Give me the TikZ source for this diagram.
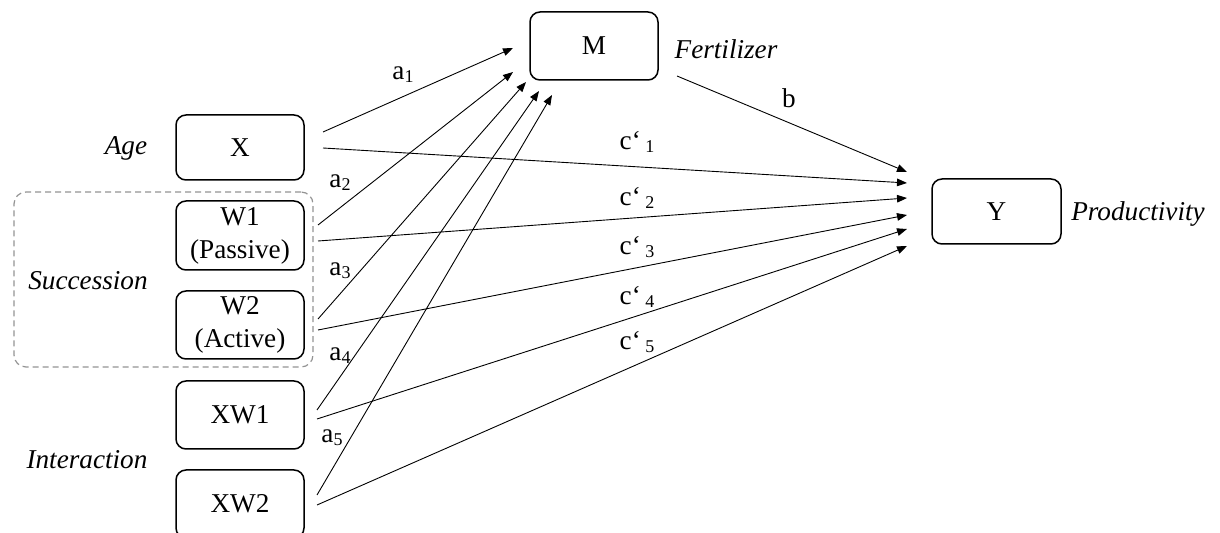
\documentclass[tikz,border=0pt]{standalone}
\usepackage{fontspec}
\setmainfont{Liberation Serif}
\usetikzlibrary{arrows.meta}
\tikzset{
  box/.style={draw=black, line width=0.75pt, rounded corners=5pt, minimum width=64pt, minimum height=34pt, inner sep=0pt, align=center, font=\fontsize{13.6}{16.5}\selectfont},
  grp/.style={draw=gray!85, line width=0.6pt, dash pattern=on 3pt off 2pt, rounded corners=6pt, inner sep=0pt},
  lab/.style={font=\fontsize{13.6}{16}\selectfont\itshape, inner sep=0pt},
  plab/.style={font=\fontsize{13.6}{16}\selectfont, inner sep=0pt},
  conn/.style={line width=0.45pt, -{Triangle[length=5pt,width=3.8pt]}},
}
\newcommand{\sbs}[1]{\raisebox{-0.25ex}{\fontsize{9}{9}\selectfont #1}}
\begin{document}
\begin{tikzpicture}[x=0.5pt,y=-0.5pt]
\useasboundingbox (0,0) rectangle (1220,533);
% group box
\node[grp, minimum width=149.5pt, minimum height=87.5pt] (grp) at (163.5,279.5) {};
% boxes
\node[box, minimum height=32.5pt] (X) at (240,147.5) {X};
\node[box, minimum height=34.5pt] (W1) at (240,235.5) {W1\\(Passive)};
\node[box] (W2) at (240,325) {W2\\(Active)};
\node[box] (XW1) at (240,415) {XW1};
\node[box] (XW2) at (240,504) {XW2};
\node[box] (M) at (594,46) {M};
\node[box, minimum width=64.5pt, minimum height=32.5pt] (Y) at (996.5,211.5) {Y};
% side labels
\node[lab] (age) at (126,148) {Age};
\node[lab] (succ) at (88,281) {Succession};
\node[lab] (inter) at (87,460) {Interaction};
\node[lab] (fert) at (726,49) {Fertilizer};
\node[lab] (prod) at (1138,214) {Productivity};
% start and end points
\coordinate (xa) at (323,132);
\coordinate (xc) at (323,148);
\coordinate (w1a) at (318,225);
\coordinate (w1c) at (318,241);
\coordinate (w2a) at (318,319);
\coordinate (w2c) at (318,330);
\coordinate (xw1a) at (317,410);
\coordinate (xw1c) at (317,419);
\coordinate (xw2a) at (317,495);
\coordinate (xw2c) at (317,505);
\coordinate (mb) at (677,76);
\coordinate (m1) at (513,48);
\coordinate (m2) at (513,72);
\coordinate (m3) at (526,82);
\coordinate (m4) at (539,91);
\coordinate (m5) at (552,95);
\coordinate (yb) at (907,172);
\coordinate (y1) at (907,183);
\coordinate (y2) at (907,198);
\coordinate (y3) at (907,215);
\coordinate (y4) at (907,229);
\coordinate (y5) at (907,246);
% connectors
\draw[conn] (xa) -- (m1);
\draw[conn] (w1a) -- (m2);
\draw[conn] (w2a) -- (m3);
\draw[conn] (xw1a) -- (m4);
\draw[conn] (xw2a) -- (m5);
\draw[conn] (mb) -- (yb);
\draw[conn] (xc) -- (y1);
\draw[conn] (w1c) -- (y2);
\draw[conn] (w2c) -- (y3);
\draw[conn] (xw1c) -- (y4);
\draw[conn] (xw2c) -- (y5);
% path labels
\node[plab] (la1) at (403,75) {a\sbs{1}};
\node[plab] (la2) at (340,183) {a\sbs{2}};
\node[plab] (la3) at (340,271) {a\sbs{3}};
\node[plab] (la4) at (340,356) {a\sbs{4}};
\node[plab] (la5) at (332,438) {a\sbs{5}};
\node[plab] (lb) at (789,98) {b};
\node[plab] (lc1) at (637,142) {c‘\,\sbs{1}};
\node[plab] (lc2) at (637,198) {c‘\,\sbs{2}};
\node[plab] (lc3) at (637,247) {c‘\,\sbs{3}};
\node[plab] (lc4) at (637,297) {c‘\,\sbs{4}};
\node[plab] (lc5) at (637,342) {c‘\,\sbs{5}};
\end{tikzpicture}
\end{document}
